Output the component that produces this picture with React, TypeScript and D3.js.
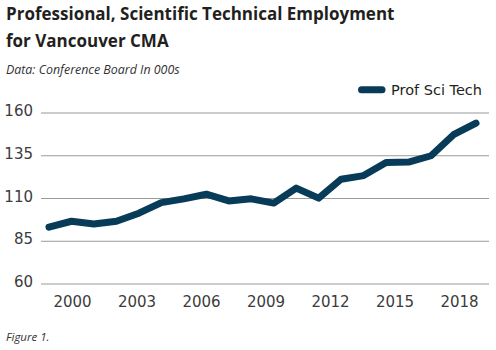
import { useRef, useEffect } from "react"
import * as d3 from "d3"

const WIDTH = 496
const HEIGHT = 350
const PLOT = { left: 41, right: 489, top: 113, bottom: 284 }

const YEARS = [1999, 2000, 2001, 2002, 2003, 2004, 2005, 2006, 2007, 2008, 2009, 2010, 2011, 2012, 2013, 2014, 2015, 2016, 2017, 2018]
const PROF_SCI_TECH = [93.2, 96.7, 95.1, 96.7, 101.4, 107.6, 109.8, 112.5, 108.6, 109.8, 107.3, 116.1, 110.2, 121.3, 123.4, 131.1, 131.3, 135.0, 147.3, 154.1]
const Y_TICKS = [60, 85, 110, 135, 160]
const X_TICKS = [2000, 2003, 2006, 2009, 2012, 2015, 2018]

const LINE_COLOR = "#073b58"
const TICK_FONT = "'DejaVu Sans', sans-serif"
const TEXT_FONT = "'Open Sans', sans-serif"

export default function App() {
  const svgRef = useRef<SVGSVGElement>(null)

  useEffect(() => {
    const svg = svgRef.current
    if (!svg) return
    d3.select(svg).selectAll("*").remove()
    const root = d3.select(svg)

    const x = d3.scalePoint<number>().domain(YEARS).range([49, 476])
    // tick labels in the original sit slightly inside the data points
    const xLabel = d3.scaleLinear().domain([2000, 2018]).range([72, 459])
    const y = d3.scaleLinear().domain([60, 160]).range([PLOT.bottom, PLOT.top])

    // ── Titles ────────────────────────────────────────────────────────────
    root.append("text")
      .attr("x", 6).attr("y", 20)
      .attr("font-family", TEXT_FONT).attr("font-weight", 700).attr("font-size", 17)
      .attr("fill", "#231f20")
      .text("Professional, Scientific Technical Employment")
    root.append("text")
      .attr("x", 6).attr("y", 47)
      .attr("font-family", TEXT_FONT).attr("font-weight", 700).attr("font-size", 17)
      .attr("fill", "#231f20")
      .text("for Vancouver CMA")
    root.append("text")
      .attr("x", 6).attr("y", 74)
      .attr("font-family", TEXT_FONT).attr("font-style", "italic").attr("font-size", 12.4)
      .attr("fill", "#333")
      .text("Data: Conference Board In 000s")
    root.append("text")
      .attr("x", 6).attr("y", 341)
      .attr("font-family", TEXT_FONT).attr("font-style", "italic").attr("font-size", 11.5)
      .attr("fill", "#333")
      .text("Figure 1.")

    // ── Grid + y axis ─────────────────────────────────────────────────────
    root.append("g")
      .selectAll("line")
      .data(Y_TICKS)
      .join("line")
      .attr("x1", PLOT.left).attr("x2", PLOT.right)
      .attr("y1", (d) => y(d)).attr("y2", (d) => y(d))
      .attr("stroke", "#9a9a9a")
      .attr("stroke-width", 1.2)

    root.append("g")
      .selectAll("text")
      .data(Y_TICKS)
      .join("text")
      .attr("x", 33)
      .attr("y", (d) => y(d) + 3)
      .attr("text-anchor", "end")
      .attr("font-family", TICK_FONT).attr("font-size", 15)
      .attr("fill", "#3c3c3c")
      .text((d) => d)

    // ── X axis labels ─────────────────────────────────────────────────────
    root.append("g")
      .attr("transform", `translate(0,${PLOT.bottom})`)
      .call(d3.axisBottom(xLabel).tickValues(X_TICKS).tickFormat((d) => String(d)).tickSize(0))
      .call((g) => g.select(".domain").remove())
      .call((g) => g.selectAll("text")
        .attr("y", 22.7).attr("dy", 0)
        .attr("font-family", TICK_FONT).attr("font-size", 15)
        .attr("fill", "#3c3c3c"))

    // ── Line ──────────────────────────────────────────────────────────────
    const line = d3.line<number>()
      .x((_, i) => x(YEARS[i]) ?? 0)
      .y((d) => y(d))
    root.append("path")
      .datum(PROF_SCI_TECH)
      .attr("d", line)
      .attr("fill", "none")
      .attr("stroke", LINE_COLOR)
      .attr("stroke-width", 7)
      .attr("stroke-linejoin", "round")
      .attr("stroke-linecap", "round")

    // ── Legend ────────────────────────────────────────────────────────────
    root.append("line")
      .attr("x1", 361.5).attr("x2", 382)
      .attr("y1", 89.7).attr("y2", 89.7)
      .attr("stroke", LINE_COLOR).attr("stroke-width", 7)
      .attr("stroke-linecap", "round")
    root.append("text")
      .attr("x", 391).attr("y", 95)
      .attr("font-family", TICK_FONT).attr("font-size", 14.5)
      .attr("fill", "#231f20")
      .text("Prof Sci Tech")
  }, [])

  return (
    <svg
      ref={svgRef}
      width={WIDTH}
      height={HEIGHT}
      style={{ position: "absolute", left: 0, top: 0, background: "#fff" }}
    />
  )
}
